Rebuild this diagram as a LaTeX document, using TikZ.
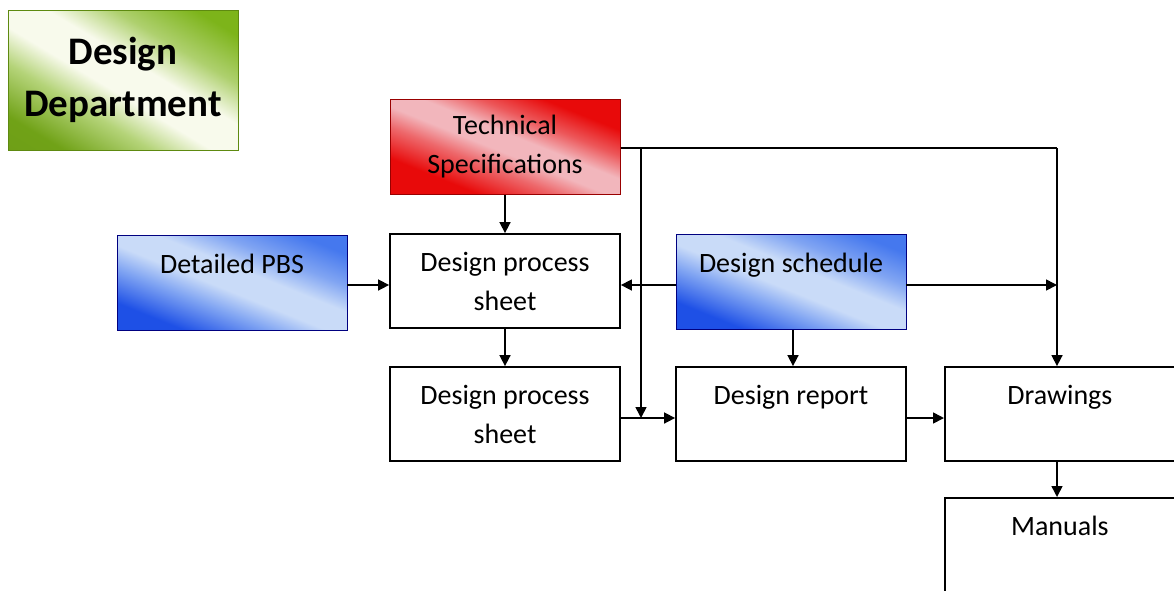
\documentclass[tikz,border=0pt]{standalone}
\usepackage{fontspec}
\setmainfont{Carlito}
\usetikzlibrary{arrows.meta}

\definecolor{leaf}{HTML}{7DB41A}
\definecolor{leafdark}{HTML}{5E8A10}
\definecolor{leaflight}{HTML}{F8FAEC}
\definecolor{specred}{HTML}{E80A0A}
\definecolor{specpink}{HTML}{F2B6BC}
\definecolor{pbsblue}{HTML}{1E50E6}
\definecolor{pbsmid}{HTML}{4578EE}
\definecolor{pbslight}{HTML}{C9DBF8}

% diagonal washes: dark corners, a broad light band through the middle
\pgfdeclareverticalshading{leafwash}{100bp}{color(0bp)=(leaf!85!black);
  color(24bp)=(leaf!90!black); color(37bp)=(leaf!55!leaflight);
  color(46bp)=(leaflight); color(56bp)=(leaflight);
  color(66bp)=(leaf!60!leaflight); color(78bp)=(leaf); color(100bp)=(leaf)}
\pgfdeclareverticalshading{redwash}{100bp}{color(0bp)=(specred);
  color(30bp)=(specred); color(41bp)=(specred!45!specpink);
  color(48bp)=(specpink); color(55bp)=(specpink);
  color(63bp)=(specred!55!specpink); color(72bp)=(specred); color(100bp)=(specred)}
\pgfdeclareverticalshading{bluewash}{100bp}{color(0bp)=(pbsblue);
  color(27bp)=(pbsblue); color(39bp)=(pbsmid!55!pbslight);
  color(47bp)=(pbslight); color(56bp)=(pbslight);
  color(65bp)=(pbsmid!55!pbslight); color(76bp)=(pbsmid); color(100bp)=(pbsmid)}

\tikzset{
  stepbox/.style={draw=black, line width=1.8pt, fill=white,
    minimum width=230pt, minimum height=94pt, align=center,
    font=\fontsize{28}{39}\selectfont, inner sep=0pt},
  colbox/.style={minimum width=230pt, minimum height=95pt, align=center,
    font=\fontsize{28}{39}\selectfont, inner sep=0pt},
  greenbox/.style={colbox, draw=leafdark, line width=0.8pt,
    shading=leafwash, shading angle=-31,
    font=\bfseries\fontsize{39}{52}\selectfont, minimum height=140pt},
  redbox/.style={colbox, draw=red!60!black, line width=1pt,
    shading=redwash, shading angle=-22},
  bluebox/.style={colbox, draw=blue!50!black, line width=0.8pt,
    shading=bluewash, shading angle=-22},
  link/.style={line width=1.6pt, -{Triangle[length=11pt,width=11pt]}},
  plain/.style={line width=1.6pt}
}

\begin{document}
\begin{tikzpicture}[x=1pt,y=-1pt]
\useasboundingbox (0,0) rectangle (1174,590);

% coloured source boxes
\node[greenbox] (dept) at (123,80) {Design\\Department};
\node[redbox] (spec) at (505,147) {Technical\\Specifications};
\node[bluebox] (pbs) at (232,283) {Detailed PBS\\\mbox{}};
\node[bluebox] (sched) at (791,282) {Design schedule\\\mbox{}};

% document boxes
\node[stepbox] (dps1) at (505,281) {Design process\\sheet};
\node[stepbox] (dps2) at (505,414) {Design process\\sheet};
\node[stepbox] (report) at (791,414) {Design report\\\mbox{}};
\node[stepbox, anchor=west] (draw) at (944,414) {Drawings\\\mbox{}};
\node[stepbox, anchor=north west] (man) at (944,497) {Manuals\\\mbox{}};

% junction points
\coordinate (top) at (641,148);
\coordinate (corner) at (1057,148);
\coordinate (join) at (641,418);
\coordinate (schedend) at (1057,285);

% connectors
\draw[link] (spec.south) -- (dps1.north);
\draw[link] (pbs.east |- 0,285) -- (dps1.west |- 0,285);
\draw[link] (sched.west |- 0,285) -- (dps1.east |- 0,285);
\draw[link] (sched.east |- 0,285) -- (schedend);
\draw[link] (sched.south -| 793,0) -- (report.north -| 793,0);
\draw[link] (dps1.south) -- (dps2.north);
\draw[plain] (spec.east |- top) -- (corner);
\draw[link] (corner) -- (draw.north -| corner);
\draw[link] (top) -- (join);
\draw[link] (dps2.east |- join) -- (report.west |- join);
\draw[link] (report.east |- join) -- (draw.west |- join);
\draw[link] (draw.south -| 1057,0) -- (man.north -| 1057,0);
\end{tikzpicture}
\end{document}
